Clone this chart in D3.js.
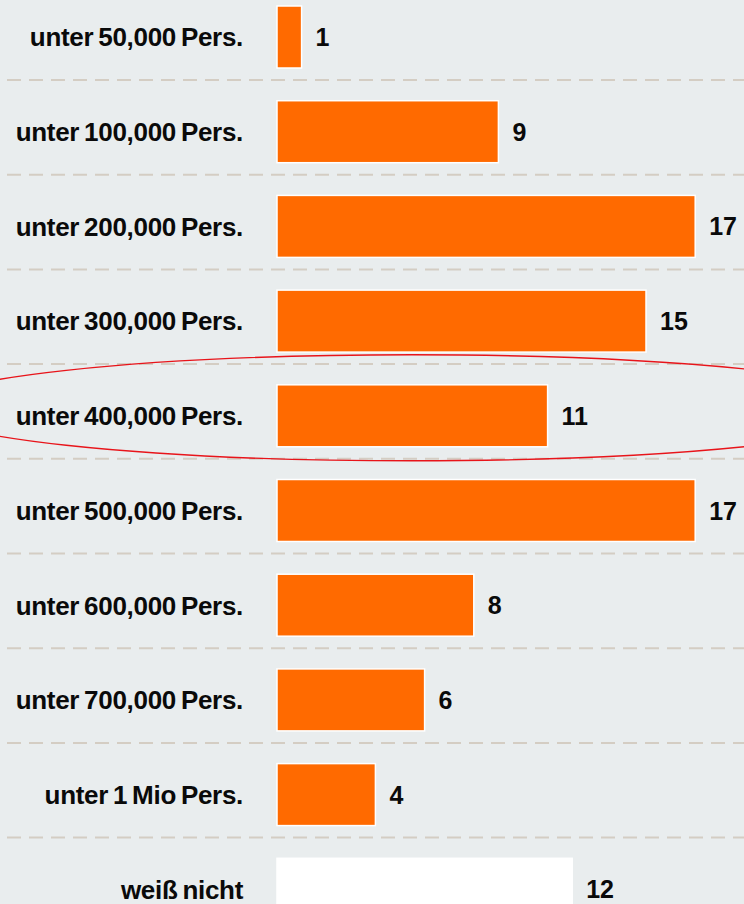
<!DOCTYPE html>
<html>
<head>
<meta charset="utf-8">
<script src="https://cdn.jsdelivr.net/npm/d3@7"></script>
<style>
  html, body { margin: 0; padding: 0; background: #e9edee; }
  svg { display: block; }
</style>
</head>
<body>
<script>
// Kategorien und Werte
const categories = [
  "unter 50,000 Pers.",
  "unter 100,000 Pers.",
  "unter 200,000 Pers.",
  "unter 300,000 Pers.",
  "unter 400,000 Pers.",
  "unter 500,000 Pers.",
  "unter 600,000 Pers.",
  "unter 700,000 Pers.",
  "unter 1 Mio Pers.",
  "weiß nicht"
];
const values = [1, 9, 17, 15, 11, 17, 8, 6, 4, 12];
const highlighted = "unter 400,000 Pers.";
const unknownCat = "weiß nicht";

const data = categories.map((c, i) => ({cat: c, value: values[i]}));

var width = 744, height = 904,
  barLeft = 277,
  step = 94.7,
  barH = 62,
  top0 = 6;

var orange = "#ff6a00",
  dashColor = "#d4cdc3";

var x = d3.scaleLinear()
  .domain([0, 17])
  .range([barLeft, barLeft + 17 * 24.6]);

// band scale: first band starts at top0, step = 94.7
var pad = 1 - barH / step;
var y = d3.scaleBand()
  .domain(categories)
  .range([top0, top0 + step * (categories.length - pad)])
  .paddingInner(pad)
  .paddingOuter(0);

var svg = d3.select("body").append("svg")
  .attr("width", width)
  .attr("height", height);

svg.append("rect")
  .attr("width", width)
  .attr("height", height)
  .attr("fill", "#e9edee");

// gestrichelte Trennlinien
svg.append("g")
  .selectAll("line")
  .data(categories.slice(0, -1))
  .join("line")
    .attr("x1", 7)
    .attr("x2", width)
    .attr("y1", d => y(d) + y.bandwidth() + 12)
    .attr("y2", d => y(d) + y.bandwidth() + 12)
    .attr("stroke", dashColor)
    .attr("stroke-width", 2)
    .attr("stroke-dasharray", "14 8");

// Balken
svg.append("g")
  .selectAll("rect")
  .data(data)
  .join("rect")
    .attr("x", x(0))
    .attr("y", d => y(d.cat))
    .attr("width", d => x(d.value) - x(0))
    .attr("height", y.bandwidth())
    .attr("fill", d => d.cat === unknownCat ? "#ffffff" : orange)
    .attr("stroke", "#ffffff")
    .attr("stroke-width", 1.5);

// Kategorie-Beschriftung
svg.append("g")
  .attr("font-family", "'Liberation Sans', Arial, sans-serif")
  .attr("font-weight", "bold")
  .attr("font-size", 26)
  .attr("fill", "#0a0a0a")
  .selectAll("text")
  .data(data)
  .join("text")
    .attr("x", 243)
    .attr("y", d => y(d.cat) + y.bandwidth() / 2)
    .attr("dy", "0.36em")
    .attr("text-anchor", "end")
    .attr("letter-spacing", -0.3)
    .attr("word-spacing", -2)
    .text(d => d.cat);

// Werte
svg.append("g")
  .attr("font-family", "'Liberation Sans', Arial, sans-serif")
  .attr("font-weight", "bold")
  .attr("font-size", 25)
  .attr("fill", "#0a0a0a")
  .selectAll("text")
  .data(data)
  .join("text")
    .attr("x", d => x(d.value) + 14)
    .attr("y", d => y(d.cat) + y.bandwidth() / 2)
    .attr("dy", "0.36em")
    .text(d => d.value);

// rote Ellipse um die markierte Zeile
svg.append("ellipse")
  .attr("cx", 412)
  .attr("cy", y(highlighted) + y.bandwidth() / 2 - 8)
  .attr("rx", 489)
  .attr("ry", 53)
  .attr("fill", "none")
  .attr("stroke", "#e8141a")
  .attr("stroke-width", 1.4);
</script>
</body>
</html>
